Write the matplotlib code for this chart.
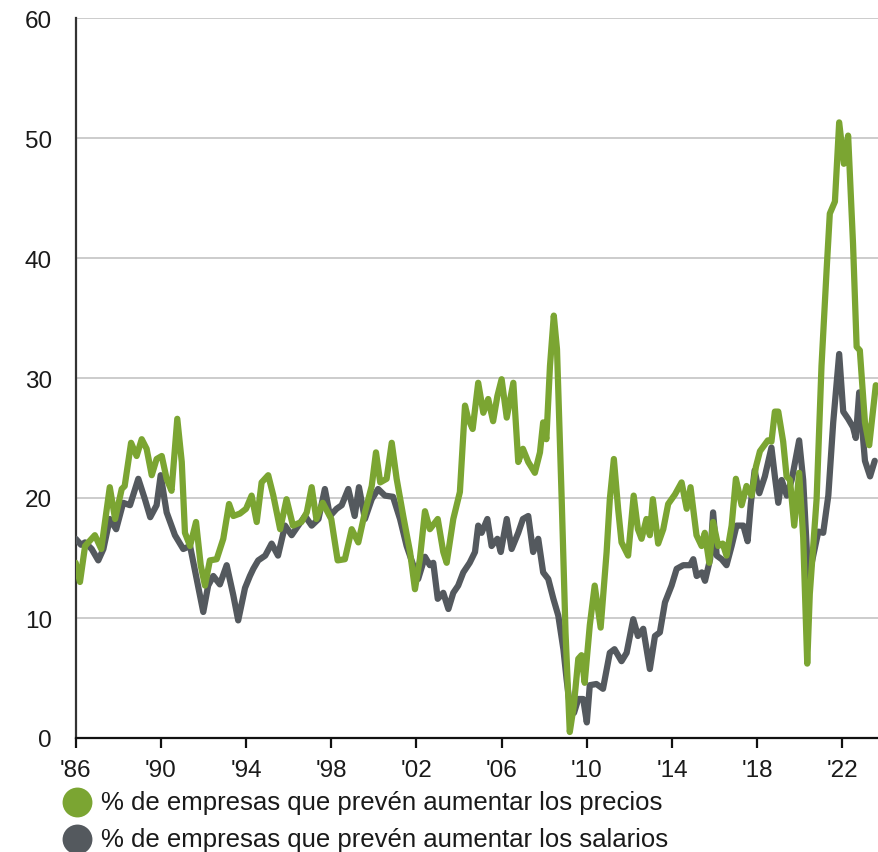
import matplotlib
matplotlib.use("Agg")
import matplotlib.pyplot as plt
from matplotlib.lines import Line2D

plt.rcParams['font.family'] = ['Liberation Sans', 'DejaVu Sans']

# Share of firms expecting to raise prices (decimal year, %)
price_years = [
    1986.00, 1986.20, 1986.44, 1986.90, 1987.20, 1987.60, 1987.85, 1988.16, 1988.30, 1988.60,
    1988.86, 1989.10, 1989.33, 1989.57, 1989.80, 1990.04, 1990.27, 1990.50, 1990.77, 1990.98,
    1991.13, 1991.37, 1991.65, 1991.87, 1992.07, 1992.30, 1992.62, 1992.93, 1993.20, 1993.40,
    1993.71, 1994.00, 1994.26, 1994.50, 1994.73, 1995.04, 1995.28, 1995.60, 1995.90, 1996.20,
    1996.60, 1996.85, 1997.08, 1997.30, 1997.60, 1998.00, 1998.30, 1998.64, 1998.96, 1999.27,
    1999.58, 1999.90, 2000.10, 2000.30, 2000.60, 2000.84, 2001.07, 2001.38, 2001.70, 2001.93,
    2002.16, 2002.40, 2002.63, 2003.00, 2003.26, 2003.42, 2003.73, 2004.04, 2004.28, 2004.43,
    2004.64, 2004.90, 2005.14, 2005.37, 2005.60, 2005.80, 2006.00, 2006.24, 2006.55, 2006.78,
    2007.00, 2007.25, 2007.56, 2007.80, 2007.95, 2008.10, 2008.27, 2008.45, 2008.60, 2008.82,
    2009.00, 2009.20, 2009.39, 2009.60, 2009.75, 2009.90, 2010.14, 2010.37, 2010.65, 2010.93,
    2011.08, 2011.27, 2011.47, 2011.63, 2011.94, 2012.20, 2012.40, 2012.57, 2012.80, 2012.96,
    2013.10, 2013.35, 2013.59, 2013.82, 2014.14, 2014.45, 2014.69, 2014.87, 2015.15, 2015.39,
    2015.54, 2015.75, 2015.93, 2016.17, 2016.38, 2016.56, 2016.80, 2017.00, 2017.27, 2017.50,
    2017.74, 2017.94, 2018.13, 2018.50, 2018.67, 2018.83, 2018.99, 2019.22, 2019.38, 2019.54,
    2019.74, 2019.97, 2020.16, 2020.35, 2020.47, 2020.79, 2021.02, 2021.26, 2021.41, 2021.65,
    2021.85, 2022.07, 2022.27, 2022.50, 2022.67, 2022.82, 2023.06, 2023.26, 2023.57,
]
prices = [
    14.6, 13.0, 16.0, 16.9, 15.75, 20.9, 18.25, 20.75, 21.0, 24.6,
    23.5, 24.9, 24.1, 21.9, 23.25, 23.5, 21.6, 20.6, 26.6, 23.0,
    17.1, 16.0, 18.0, 14.4, 12.7, 14.8, 14.9, 16.6, 19.5, 18.5,
    18.7, 19.1, 20.2, 18.0, 21.3, 21.9, 20.2, 17.4, 19.9, 17.7,
    18.0, 18.8, 20.9, 18.25, 19.6, 18.25, 14.8, 14.9, 17.4, 16.3,
    18.8, 21.0, 23.8, 21.3, 21.6, 24.6, 21.6, 18.5, 15.5, 12.4,
    14.9, 18.9, 17.4, 18.25, 15.5, 14.6, 18.25, 20.5, 27.7, 26.6,
    25.75, 29.6, 27.1, 28.25, 26.4, 28.5, 29.9, 26.7, 29.6, 23.0,
    24.1, 23.0, 22.1, 23.8, 26.3, 24.9, 31.0, 35.2, 32.4, 19.9,
    8.8, 0.5, 2.7, 6.6, 6.9, 4.6, 9.4, 12.7, 9.2, 15.5,
    19.9, 23.25, 19.1, 16.3, 15.2, 20.2, 17.4, 16.6, 18.25, 16.9,
    19.9, 16.2, 17.4, 19.5, 20.3, 21.3, 19.1, 20.9, 16.9, 16.0,
    17.1, 14.6, 18.0, 16.0, 16.2, 15.2, 17.7, 21.6, 19.4, 21.0,
    20.2, 22.6, 23.9, 24.8, 24.7, 27.2, 27.2, 24.7, 21.8, 21.5,
    17.7, 22.1, 16.75, 6.2, 12.0, 19.9, 31.0, 39.0, 43.7, 44.7,
    51.3, 47.85, 50.2, 41.2, 32.6, 32.3, 26.3, 24.4, 29.4,
]

# Share of firms expecting to raise wages (decimal year, %)
wage_years = [
    1986.00, 1986.25, 1986.44, 1986.75, 1987.06, 1987.30, 1987.60, 1987.90, 1988.23, 1988.55,
    1988.94, 1989.25, 1989.50, 1989.80, 1989.99, 1990.27, 1990.66, 1991.05, 1991.37, 1991.68,
    1991.99, 1992.22, 1992.46, 1992.77, 1993.09, 1993.40, 1993.63, 1993.95, 1994.18, 1994.34,
    1994.57, 1994.90, 1995.20, 1995.50, 1995.83, 1996.14, 1996.45, 1996.77, 1997.08, 1997.40,
    1997.70, 1997.94, 1998.25, 1998.49, 1998.80, 1999.10, 1999.30, 1999.58, 1999.90, 2000.20,
    2000.52, 2000.90, 2001.23, 2001.54, 2001.85, 2002.08, 2002.40, 2002.63, 2002.79, 2003.00,
    2003.26, 2003.50, 2003.73, 2003.96, 2004.20, 2004.50, 2004.75, 2004.90, 2005.06, 2005.33,
    2005.53, 2005.80, 2005.96, 2006.24, 2006.47, 2006.78, 2007.00, 2007.25, 2007.48, 2007.72,
    2007.95, 2008.19, 2008.43, 2008.66, 2008.90, 2009.05, 2009.20, 2009.40, 2009.60, 2009.83,
    2010.00, 2010.14, 2010.45, 2010.76, 2011.08, 2011.30, 2011.63, 2011.87, 2012.18, 2012.40,
    2012.65, 2012.96, 2013.20, 2013.43, 2013.67, 2013.98, 2014.22, 2014.53, 2014.85, 2015.00,
    2015.16, 2015.40, 2015.55, 2015.79, 2015.93, 2016.10, 2016.33, 2016.56, 2016.80, 2017.03,
    2017.35, 2017.55, 2017.70, 2017.88, 2018.10, 2018.36, 2018.67, 2018.83, 2018.99, 2019.15,
    2019.39, 2019.62, 2019.97, 2020.16, 2020.40, 2020.63, 2020.87, 2021.10, 2021.34, 2021.57,
    2021.85, 2022.04, 2022.27, 2022.50, 2022.63, 2022.79, 2023.06, 2023.30, 2023.52,
]
wages = [
    16.6, 16.1, 16.3, 15.75, 14.8, 15.75, 18.25, 17.4, 19.6, 19.4,
    21.6, 19.9, 18.4, 19.4, 21.9, 18.8, 16.9, 15.75, 16.0, 13.25,
    10.5, 12.7, 13.5, 12.8, 14.4, 11.9, 9.8, 12.5, 13.5, 14.1,
    14.8, 15.2, 16.2, 15.2, 17.7, 16.9, 17.7, 18.5, 17.7, 18.25,
    20.75, 18.5, 19.1, 19.4, 20.75, 18.5, 20.9, 18.25, 19.9, 20.75,
    20.2, 20.1, 18.25, 16.0, 14.4, 13.25, 15.1, 14.4, 14.6, 11.6,
    12.1, 10.75, 12.1, 12.7, 13.8, 14.6, 15.5, 17.7, 17.1, 18.25,
    16.0, 16.6, 15.5, 18.25, 15.75, 17.1, 18.25, 18.5, 15.5, 16.6,
    13.8, 13.25, 11.6, 10.2, 7.4, 4.9, 2.7, 2.1, 3.25, 3.25,
    1.3, 4.4, 4.5, 4.1, 7.1, 7.4, 6.4, 7.1, 9.9, 8.5,
    9.1, 5.75, 8.5, 8.8, 11.3, 12.7, 14.1, 14.4, 14.4, 14.9,
    13.5, 13.8, 13.1, 14.9, 18.8, 15.2, 14.9, 14.4, 16.0, 17.7,
    17.7, 16.4, 19.5, 22.3, 20.4, 21.8, 24.2, 21.8, 19.6, 21.5,
    20.2, 21.5, 24.8, 21.5, 13.25, 15.2, 17.2, 17.1, 20.2, 26.3,
    32.0, 27.2, 26.6, 25.9, 25.0, 28.8, 23.1, 21.8, 23.1,
]

tick_years = [1986, 1990, 1994, 1998, 2002, 2006, 2010, 2014, 2018, 2022]
tick_labels = ["'86", "'90", "'94", "'98", "'02", "'06", "'10", "'14", "'18", "'22"]
y_ticks = [0, 10, 20, 30, 40, 50, 60]

legend_labels = [
    "% de empresas que prevén aumentar los precios",
    "% de empresas que prevén aumentar los salarios",
]

GREEN = "#7BA532"
GRAY = "#54595E"
TEXT = "#1a1a1a"

W, H = 879, 853
fig = plt.figure(figsize=(W / 100, H / 100), dpi=100)
ax = fig.add_axes([75.7 / W, 1 - 739 / H, (879 - 75.7) / W, (739 - 19) / H])

ax.plot(wage_years, wages, color=GRAY, lw=4.5, solid_joinstyle="round",
        solid_capstyle="round", zorder=3)
ax.plot(price_years, prices, color=GREEN, lw=4.5, solid_joinstyle="round",
        solid_capstyle="round", zorder=4)

ax.set_xlim(1986, 2023.72)
ax.set_ylim(0, 60)
ax.set_yticks(y_ticks)
ax.set_xticks(tick_years)
ax.set_xticklabels(tick_labels)

ax.grid(axis="y", color="#C8C8C8", lw=1.3, zorder=0)
ax.set_axisbelow(True)

for side in ("top", "right"):
    ax.spines[side].set_visible(False)
ax.spines["left"].set_color("#333333")
ax.spines["left"].set_linewidth(1.6)
ax.spines["bottom"].set_color("#111111")
ax.spines["bottom"].set_linewidth(1.6)

ax.tick_params(axis="y", length=0, pad=17, labelsize=17.5, labelcolor=TEXT)
ax.tick_params(axis="x", direction="out", length=7, width=1.6, color="#111111",
               pad=8, labelsize=17.5, labelcolor=TEXT)

# Legend drawn below the axes
for i, (label, col) in enumerate(zip(legend_labels, [GREEN, GRAY])):
    yc = 1 - (803 + 37 * i) / H
    fig.add_artist(Line2D([77.5 / W], [yc], marker="o", markersize=21.5, color=col,
                          markeredgewidth=0, transform=fig.transFigure))
    fig.text(101 / W, yc, label, fontsize=18.5, color=TEXT, va="center", ha="left")

fig.savefig("out.png", dpi=100)
